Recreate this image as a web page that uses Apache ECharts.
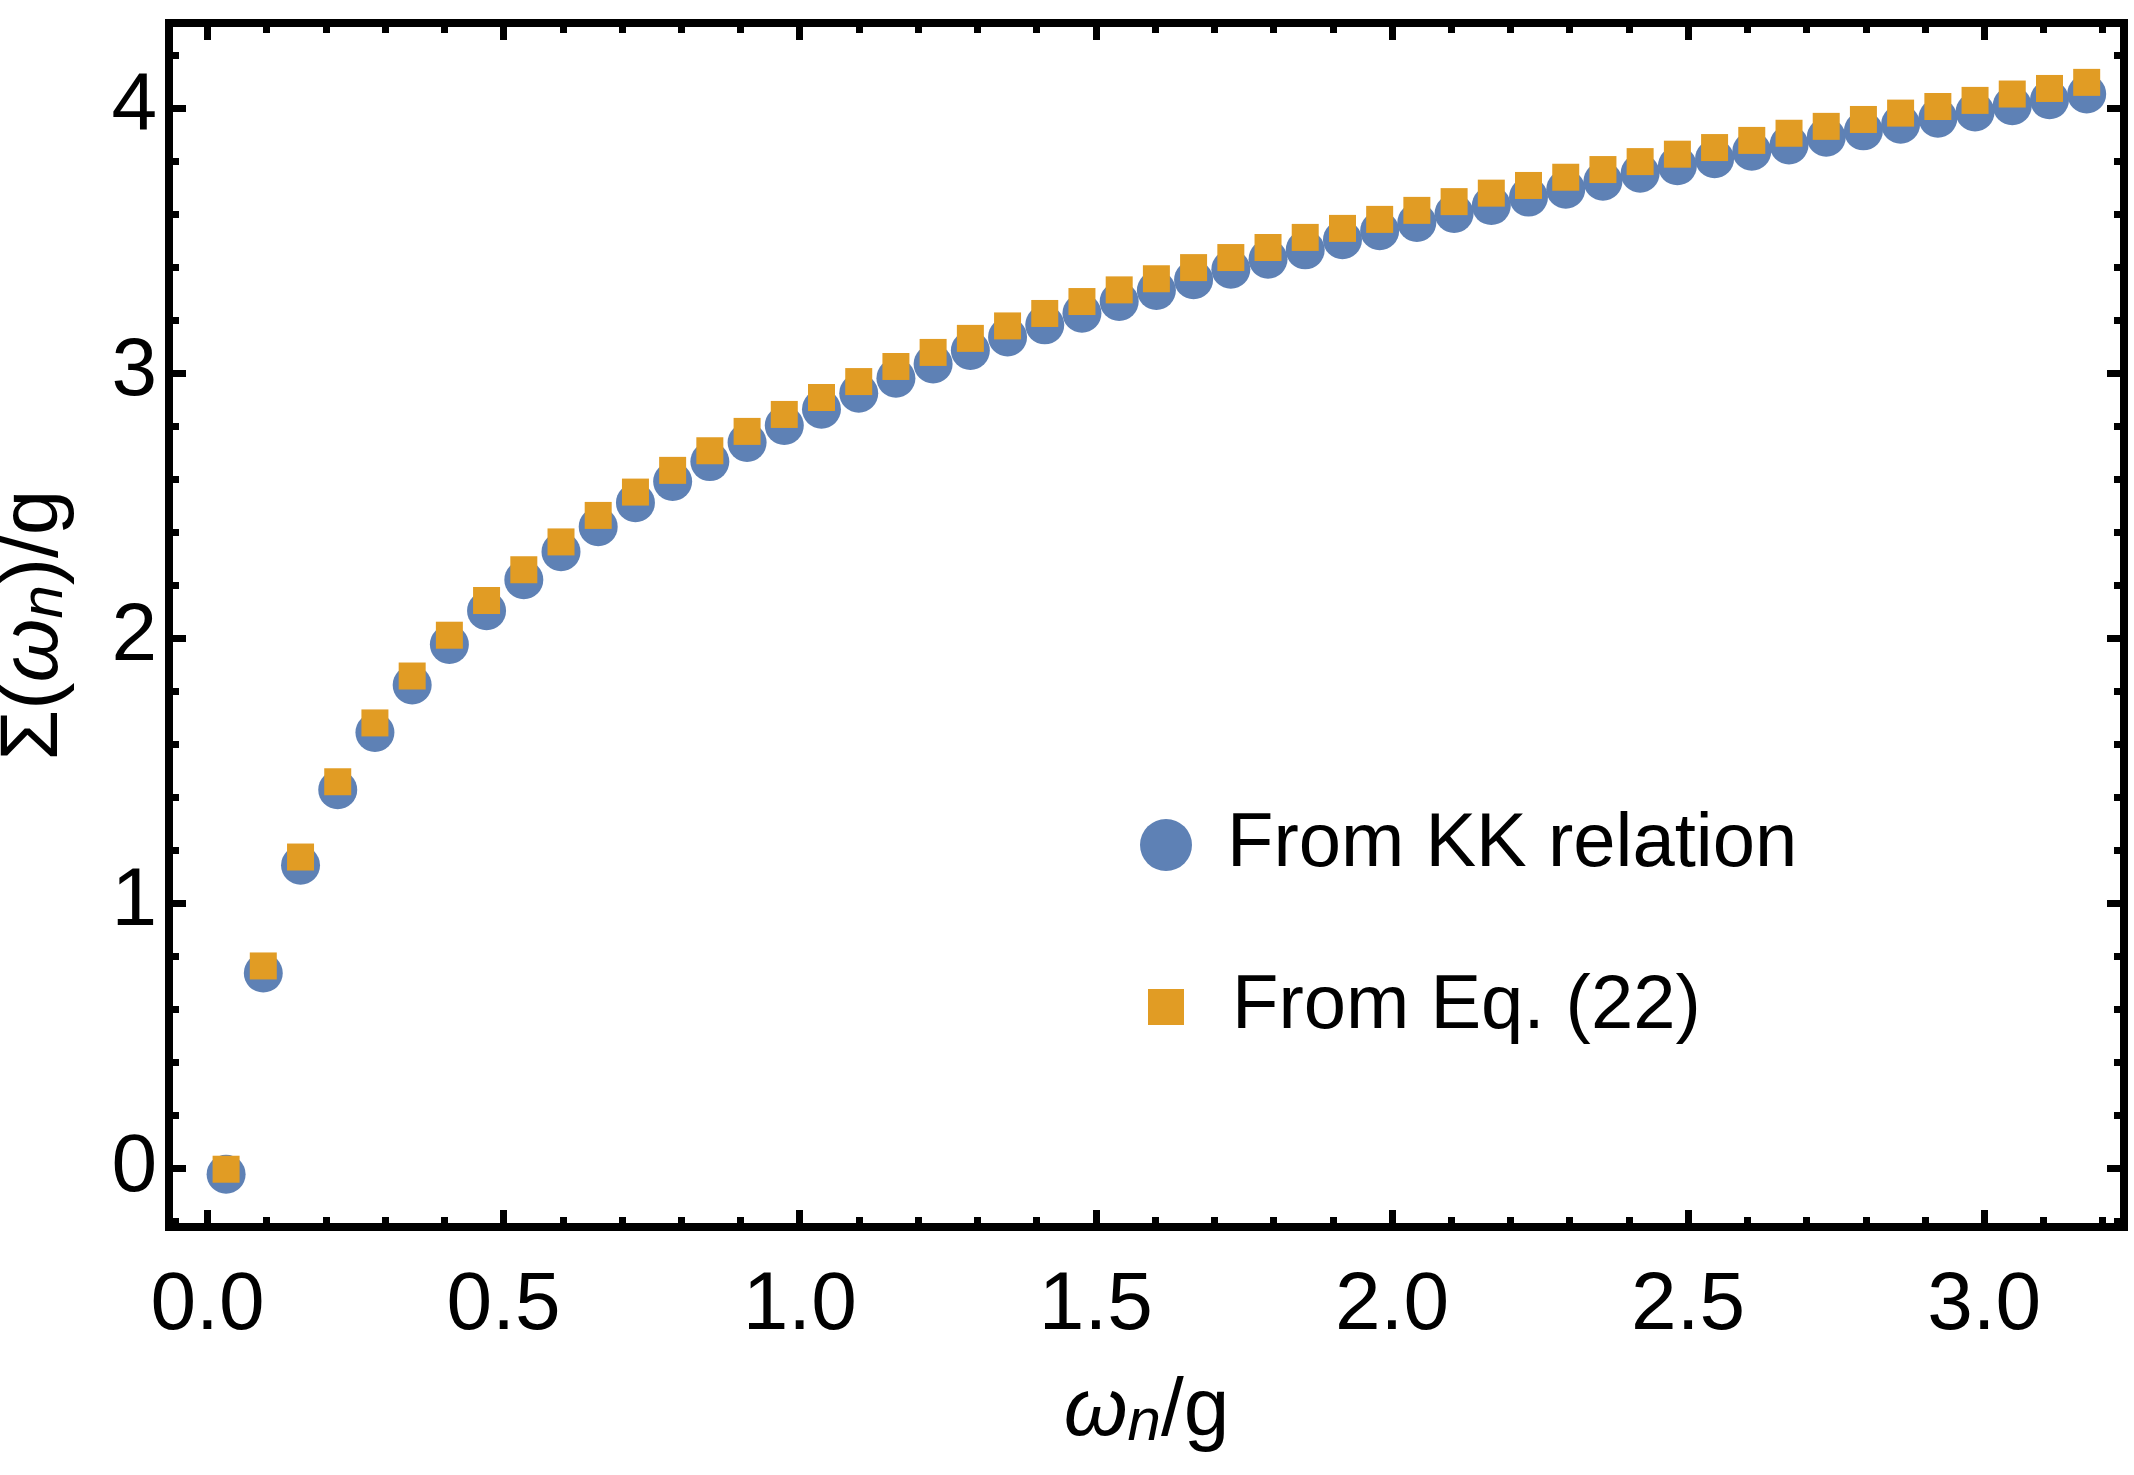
<!DOCTYPE html>
<html>
<head>
<meta charset="utf-8">
<script src="https://cdn.jsdelivr.net/npm/echarts@6/dist/echarts.min.js"></script>
<style>
  html, body { margin: 0; padding: 0; background: #fff; }
  #main { width: 2134px; height: 1475px; }
</style>
</head>
<body>
<div id="main"></div>
<script>
// Matsubara frequencies w_n/g
var omega = [0.0314, 0.0942, 0.1571, 0.2199, 0.2827, 0.3456, 0.4084, 0.4712, 0.5341, 0.5969,
  0.6597, 0.7226, 0.7854, 0.8482, 0.9111, 0.9739, 1.0367, 1.0996, 1.1624, 1.2252,
  1.2881, 1.3509, 1.4137, 1.4765, 1.5394, 1.6022, 1.6650, 1.7279, 1.7907, 1.8535,
  1.9164, 1.9792, 2.0420, 2.1049, 2.1677, 2.2305, 2.2934, 2.3562, 2.4190, 2.4819,
  2.5447, 2.6075, 2.6704, 2.7332, 2.7960, 2.8588, 2.9217, 2.9845, 3.0473, 3.1102, 3.1730];

// Sigma(w_n)/g from KK relation
var sigmaKK = [-0.024, 0.735, 1.142, 1.427, 1.643, 1.822, 1.975, 2.102, 2.219, 2.325,
  2.419, 2.510, 2.590, 2.665, 2.737, 2.801, 2.863, 2.923, 2.980, 3.033,
  3.084, 3.135, 3.181, 3.225, 3.269, 3.311, 3.351, 3.391, 3.429, 3.464,
  3.502, 3.536, 3.567, 3.601, 3.631, 3.663, 3.693, 3.723, 3.753, 3.781,
  3.808, 3.836, 3.860, 3.889, 3.913, 3.938, 3.961, 3.984, 4.008, 4.030, 4.052];

// Sigma(w_n)/g from Eq. (22)
var sigmaEq = [-0.005, 0.762, 1.173, 1.457, 1.679, 1.856, 2.010, 2.141, 2.257, 2.362,
  2.462, 2.550, 2.632, 2.706, 2.779, 2.843, 2.907, 2.967, 3.024, 3.077,
  3.130, 3.177, 3.224, 3.269, 3.313, 3.355, 3.397, 3.435, 3.473, 3.511,
  3.545, 3.579, 3.613, 3.646, 3.678, 3.707, 3.738, 3.767, 3.797, 3.825,
  3.850, 3.877, 3.904, 3.930, 3.956, 3.980, 4.005, 4.028, 4.052, 4.073, 4.096];

var xMajor = [0, 0.5, 1.0, 1.5, 2.0, 2.5, 3.0];
var xMinor = [0.1, 0.2, 0.3, 0.4, 0.6, 0.7, 0.8, 0.9, 1.1, 1.2, 1.3, 1.4, 1.6, 1.7, 1.8, 1.9,
  2.1, 2.2, 2.3, 2.4, 2.6, 2.7, 2.8, 2.9, 3.1, 3.2];
var yMajor = [0, 1, 2, 3, 4];
var yMinor = [-0.2, 0.2, 0.4, 0.6, 0.8, 1.2, 1.4, 1.6, 1.8, 2.2, 2.4, 2.6, 2.8,
  3.2, 3.4, 3.6, 3.8, 4.2];

var xMin = -0.065, xMax = 3.236;
var yMin = -0.223, yMax = 4.32;

var FONT = 'Liberation Sans';

var kkData = omega.map(function (x, i) { return [x, sigmaKK[i]]; });
var eqData = omega.map(function (x, i) { return [x, sigmaEq[i]]; });

var nameRich = {
  a: { fontFamily: FONT, fontSize: 82, lineHeight: 82, color: '#000', verticalAlign: 'bottom' },
  i: { fontFamily: FONT, fontSize: 82, lineHeight: 82, fontStyle: 'italic', color: '#000', verticalAlign: 'bottom' },
  s: { fontFamily: FONT, fontSize: 60, lineHeight: 54, fontStyle: 'italic', color: '#000', verticalAlign: 'bottom' }
};

// one axis = one set of ticks; major axes also draw the frame side
function tickAxis(pos, vals, len, isX, major, withLabel) {
  var ax = {
    type: 'value',
    gridIndex: 0,
    position: pos,
    min: isX ? xMin : yMin,
    max: isX ? xMax : yMax,
    axisLine: { show: major, onZero: false, lineStyle: { color: '#000', width: 8, cap: 'square' } },
    splitLine: { show: false },
    axisTick: { show: true, inside: true, length: len, customValues: vals,
      lineStyle: { color: '#000', width: 7 } },
    axisLabel: { show: false }
  };
  if (withLabel) {
    ax.axisLabel = {
      show: true,
      customValues: vals,
      fontFamily: FONT,
      fontSize: 82,
      color: '#000',
      margin: isX ? 38 : 12,
      formatter: function (v) { return isX ? v.toFixed(1) : String(Math.round(v)); }
    };
  }
  return ax;
}

var xBottom = tickAxis('bottom', xMajor, 17, true, true, true);
xBottom.name = '{i|ω}{s|n}{a|/g}';
xBottom.nameLocation = 'middle';
xBottom.nameGap = 144;
xBottom.nameTextStyle = { rich: nameRich };

var yLeft = tickAxis('left', yMajor, 17, false, true, true);
yLeft.name = '{a|Σ(}{i|ω}{s|n}{a|)/g}';
yLeft.nameLocation = 'middle';
yLeft.nameGap = 94;
yLeft.nameTextStyle = { rich: nameRich };

var chart = echarts.init(document.getElementById('main'));
chart.setOption({
  backgroundColor: '#fff',
  animation: false,
  grid: {
    left: 169, right: 10, top: 23, bottom: 248,
    containLabel: false, outerBoundsMode: 'none'
  },
  xAxis: [
    xBottom,
    tickAxis('bottom', xMinor, 10, true, false, false),
    tickAxis('top', xMajor, 17, true, true, false),
    tickAxis('top', xMinor, 10, true, false, false)
  ],
  yAxis: [
    yLeft,
    tickAxis('left', yMinor, 10, false, false, false),
    tickAxis('right', yMajor, 17, false, true, false),
    tickAxis('right', yMinor, 10, false, false, false)
  ],
  legend: [
    {
      data: ['From KK relation'], icon: 'circle', itemWidth: 52, itemHeight: 52,
      left: 1140, top: 807, padding: 0, selectedMode: false,
      textStyle: { fontFamily: FONT, fontSize: 76, color: '#000', padding: [0, 0, 0, 30] }
    },
    {
      data: ['From Eq. (22)'], icon: 'rect', itemWidth: 36, itemHeight: 36,
      left: 1148, top: 969, padding: 0, selectedMode: false,
      textStyle: { fontFamily: FONT, fontSize: 76, color: '#000', padding: [0, 0, 0, 43] }
    }
  ],
  series: [
    {
      name: 'From KK relation', type: 'scatter', xAxisIndex: 0, yAxisIndex: 0,
      symbol: 'circle', symbolSize: 39, data: kkData,
      itemStyle: { color: '#5E81B5', opacity: 1 }
    },
    {
      name: 'From Eq. (22)', type: 'scatter', xAxisIndex: 0, yAxisIndex: 0,
      symbol: 'rect', symbolSize: 27, data: eqData,
      itemStyle: { color: '#E19C24', opacity: 1 }
    }
  ]
});
</script>
</body>
</html>
